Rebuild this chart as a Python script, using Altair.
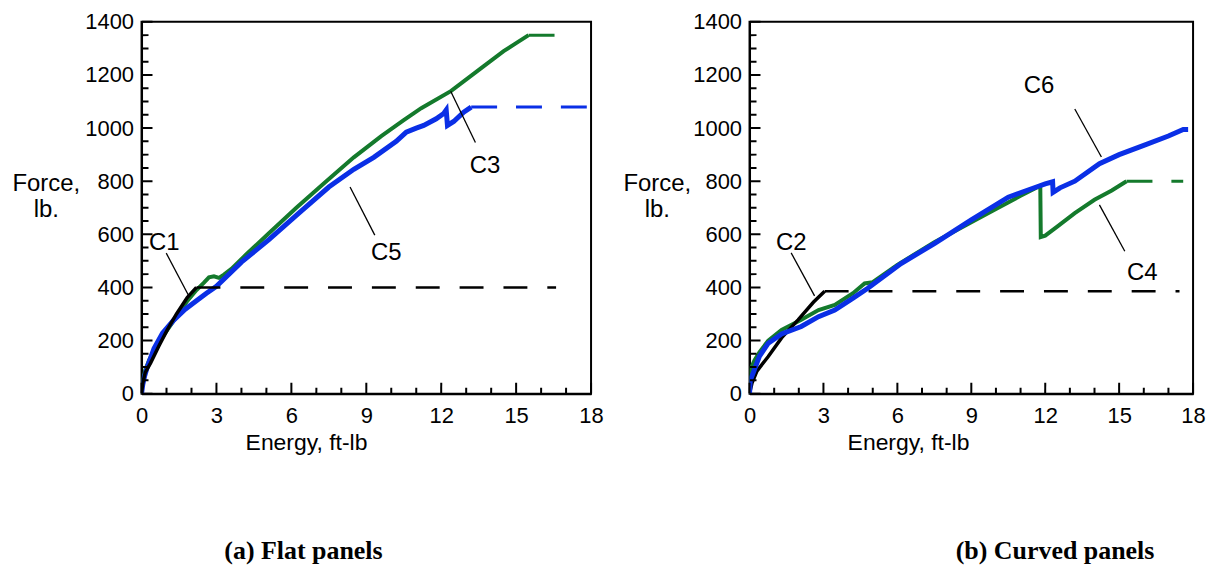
import altair as alt
import pandas as pd

# ---------------- data: (a) Flat panels ----------------
C1_E = [0, 0.05, 0.15, 0.36, 0.7, 1.03, 1.4, 1.83, 2.2]
C1_F = [0, 40, 80, 115, 180, 240, 300, 362, 400]
C1_plateau_E = [2.2, 16.6]
C1_plateau_F = [400, 400]

C3_E = [0, 0.05, 0.15, 0.3, 0.6, 1.0, 1.4, 1.8, 2.2, 2.5, 2.7, 2.9, 3.1, 3.3, 3.6, 4.2, 5.1,
        6.2, 7.4, 8.5, 9.6, 10.5, 11.2, 12.4, 13.6, 14.5, 15.0, 15.5]
C3_F = [0, 50, 90, 125, 180, 235, 290, 345, 390, 418, 438, 442, 436, 448, 470, 525, 604,
        700, 800, 890, 970, 1030, 1075, 1140, 1226, 1290, 1320, 1350]
C3_plateau_E = [15.5, 16.6]
C3_plateau_F = [1350, 1350]

C5_E = [0, 0.05, 0.12, 0.23, 0.5, 0.84, 1.3, 1.75, 2.2, 2.6, 3.0, 4.0, 5.1, 6.3, 7.5, 8.5,
        9.3, 10.2, 10.6, 11.0, 11.3, 11.8, 12.1, 12.2, 12.25, 12.5, 12.9, 13.2]
C5_F = [0, 35, 65, 100, 170, 228, 278, 318, 350, 378, 404, 495, 580, 680, 778, 845,
        890, 950, 985, 1000, 1010, 1035, 1055, 1068, 1010, 1025, 1060, 1079]
C5_plateau_E = [13.2, 17.9]
C5_plateau_F = [1079, 1079]

# ---------------- data: (b) Curved panels ----------------
C2_E = [0, 0.1, 0.3, 0.76, 1.3, 1.97, 2.6, 3.05]
C2_F = [0, 40, 85, 140, 210, 278, 345, 386]
C2_plateau_E = [3.05, 17.45]
C2_plateau_F = [386, 386]

C4_E = [0, 0.02, 0.08, 0.2, 0.4, 0.76, 1.3, 2.1, 2.8, 3.46, 4.2, 4.67, 5.0, 6.0, 7.5, 9.0,
        10.0, 11.0, 11.7, 11.8, 11.82, 12.0, 12.5, 13.2, 14.0, 14.7, 15.3]
C4_F = [0, 60, 100, 125, 155, 200, 240, 278, 315, 334, 378, 415, 420, 485, 570, 645,
        695, 745, 778, 780, 590, 595, 630, 680, 730, 765, 800]
C4_plateau_E = [15.3, 17.6]
C4_plateau_F = [800, 800]

C6_E = [0, 0.03, 0.15, 0.4, 0.76, 1.3, 2.1, 2.8, 3.46, 4.2, 4.8, 6.15, 7.5, 9.0, 10.5,
        11.67, 12.0, 12.3, 12.32, 12.6, 13.2, 14.2, 15.0, 16.0, 17.0, 17.6, 17.8]
C6_F = [0, 50, 78, 140, 190, 225, 253, 290, 315, 360, 397, 490, 565, 654, 740,
        779, 790, 798, 758, 775, 800, 866, 900, 935, 970, 995, 995]

# ---------------- labels & leader lines ----------------
LABELS_A = ["C1", "C5", "C3"]
LABEL_A_E = [0.91, 9.8, 13.75]
LABEL_A_F = [566, 529, 859]
LEAD_A_E1 = [0.99, 8.35, 12.38]
LEAD_A_F1 = [529, 778, 1139]
LEAD_A_E2 = [1.9, 9.34, 13.37]
LEAD_A_F2 = [367, 597, 946]

LABELS_B = ["C2", "C6", "C4"]
LABEL_B_E = [1.69, 11.75, 15.94]
LABEL_B_F = [567, 1159, 455]
LEAD_B_E1 = [1.69, 13.2, 14.2]
LEAD_B_F1 = [530, 1072, 711]
LEAD_B_E2 = [2.64, 14.28, 15.23]
LEAD_B_F2 = [368, 891, 536]

X_MAJOR = [0, 3, 6, 9, 12, 15, 18]
X_MINOR = [1, 2, 4, 5, 7, 8, 10, 11, 13, 14, 16, 17]
Y_MAJOR = [0, 200, 400, 600, 800, 1000, 1200, 1400]
Y_MINOR = [50, 100, 150, 250, 300, 350, 450, 500, 550, 650, 700, 750, 850, 900, 950,
           1050, 1100, 1150, 1250, 1300, 1350]

GREEN = "#147a2c"
BLUE = "#0a2fe6"
FONT = "Liberation Sans"
H = 373
E_MAX = 18
F_MAX = 1400


def df(e, f):
    return pd.DataFrame({"E": e, "F": f})


def panel(width, curves, labels, sub, sub_dx, ytx, xtx):
    xs = alt.Scale(domain=[0, E_MAX], nice=False, zero=False)
    ys = alt.Scale(domain=[0, F_MAX], nice=False)
    xax = alt.Axis(values=X_MAJOR, ticks=False, grid=False, labelFontSize=22, labelFont=FONT,
                   labelColor="black", labelPadding=12, domainColor="black", domainWidth=2,
                   format="d",
                   title="Energy, ft-lb", titleFont=FONT, titleFontSize=23, titleFontWeight="normal",
                   titleColor="black", titleX=xtx, titleY=49, titleBaseline="middle",
                   titleAlign="center", labelFlush=False)
    yax = alt.Axis(values=Y_MAJOR, ticks=False, grid=False, labelFontSize=22, labelFont=FONT,
                   labelColor="black", labelPadding=8, domainColor="black", domainWidth=2,
                   format="d",
                   title=["Force,", "lb."], titleFont=FONT, titleFontSize=24,
                   titleFontWeight="normal", titleColor="black", titleAngle=0,
                   titleAlign="center", titleBaseline="top", titleX=ytx, titleY=150,
                   titleLineHeight=26, labelFlush=False)

    def X(field):
        return alt.X(field, scale=xs, axis=xax)

    def Y(field):
        return alt.Y(field, scale=ys, axis=yax)

    layers = []
    for d, color, sw, dash in curves:
        kw = dict(color=color, strokeWidth=sw, clip=True)
        if dash:
            kw["strokeDash"] = dash
        layers.append(alt.Chart(d).transform_window(idx="row_number()")
                      .mark_line(**kw).encode(x=X("E:Q"), y=Y("F:Q"),
                                              order=alt.Order("idx:Q")))

    names, le, lf, e1, f1, e2, f2 = labels
    lead = pd.DataFrame({"E": e1, "F": f1, "E2": e2, "F2": f2})
    layers.append(alt.Chart(lead).mark_rule(color="black", strokeWidth=1.3).encode(
        x=X("E:Q"), y=Y("F:Q"), x2="E2:Q", y2="F2:Q"))

    # inward tick marks drawn as short segments through the scales
    fpp = F_MAX / H
    epp = E_MAX / width
    eps_e = 0.02 * epp
    eps_f = 0.02 * fpp
    segs = []
    segs += [{"E": v, "F": 0.5 * fpp, "E2": v + eps_e, "F2": 11 * fpp} for v in X_MAJOR]
    segs += [{"E": v, "F": 0.5 * fpp, "E2": v + eps_e, "F2": 6 * fpp} for v in X_MINOR]
    segs += [{"E": 0.5 * epp, "F": v, "E2": 11 * epp, "F2": v + eps_f} for v in Y_MAJOR]
    segs += [{"E": 0.5 * epp, "F": v, "E2": 7 * epp, "F2": v + eps_f} for v in Y_MINOR]
    layers.append(alt.Chart(pd.DataFrame(segs)).mark_rule(
        color="black", strokeWidth=2, opacity=1).encode(
        x=X("E:Q"), y=Y("F:Q"), x2="E2:Q", y2="F2:Q"))

    lab = pd.DataFrame({"E": le, "F": lf, "t": names})
    layers.append(alt.Chart(lab).mark_text(font=FONT, fontSize=24, color="black",
                                           baseline="middle", align="center").encode(
        x=X("E:Q"), y=Y("F:Q"), text="t:N"))
    return alt.layer(*layers).properties(
        width=width, height=H,
        title=alt.TitleParams(sub, orient="bottom", font="Liberation Serif", fontSize=26,
                              fontWeight="bold", color="black", anchor="middle", dx=sub_dx,
                              offset=84))


DASH = [26, 19]
left = panel(
    451,
    [
        (df(C3_E, C3_F), GREEN, 4, None),
        (df(C3_plateau_E, C3_plateau_F), GREEN, 3, DASH),
        (df(C5_E, C5_F), BLUE, 5, None),
        (df(C5_plateau_E, C5_plateau_F), BLUE, 3, DASH),
        (df(C1_E, C1_F), "black", 3.5, None),
        (df(C1_plateau_E, C1_plateau_F), "black", 2.5, [24, 20]),
    ],
    (LABELS_A, LABEL_A_E, LABEL_A_F, LEAD_A_E1, LEAD_A_F1, LEAD_A_E2, LEAD_A_F2),
    "(a)  Flat panels", -63, -96, 165,
)
right = panel(
    445,
    [
        (df(C4_E, C4_F), GREEN, 4, None),
        (df(C4_plateau_E, C4_plateau_F), GREEN, 3, DASH),
        (df(C2_E, C2_F), "black", 3.5, None),
        (df(C2_plateau_E, C2_plateau_F), "black", 2.5, [24, 20]),
        (df(C6_E, C6_F), BLUE, 5, None),
    ],
    (LABELS_B, LABEL_B_E, LABEL_B_F, LEAD_B_E1, LEAD_B_F1, LEAD_B_E2, LEAD_B_F2),
    "(b)  Curved panels", 84, -93, 159,
)

chart = alt.hconcat(left, right, spacing=16).properties(
    padding={"left": 10, "top": 9, "right": 5, "bottom": 5},
    background="white",
).configure_view(stroke="black", strokeWidth=2)

chart.save("out.html", embed_options={"renderer": "svg", "actions": False})
